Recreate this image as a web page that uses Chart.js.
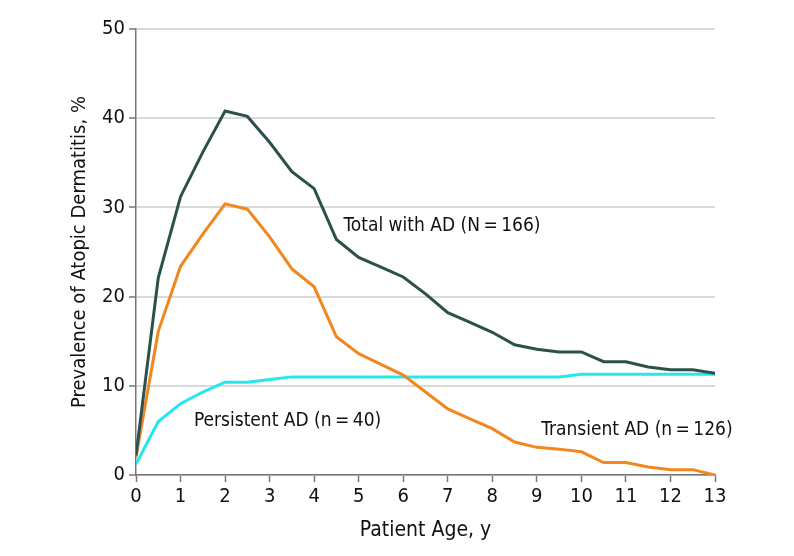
<!DOCTYPE html>
<html>
<head>
<meta charset="utf-8">
<script src="https://cdn.jsdelivr.net/npm/chart.js@4"></script>
<style>
  html, body { margin: 0; padding: 0; background: #fff; }
  #wrap { width: 794px; height: 556px; }
</style>
</head>
<body>
<div id="wrap"><canvas id="chart" width="794" height="556"></canvas></div>
<script>
// patient age, years (half year steps)
const ages = [0, 0.5, 1, 1.5, 2, 2.5, 3, 3.5, 4, 4.5, 5, 5.5, 6, 6.5, 7, 7.5, 8, 8.5, 9, 9.5, 10, 10.5, 11, 11.5, 12, 12.5, 13];

// prevalence, %
const totalAD = [2.2, 22.1, 31.2, 36.2, 40.8, 40.2, 37.3, 34.0, 32.1, 26.4, 24.4, 23.3, 22.2, 20.3, 18.2, 17.1, 16.0, 14.6, 14.1, 13.8, 13.8, 12.7, 12.7, 12.1, 11.8, 11.8, 11.4];
const transientAD = [2.0, 16.1, 23.4, 27.0, 30.4, 29.8, 26.7, 23.1, 21.1, 15.5, 13.6, 12.4, 11.2, 9.3, 7.4, 6.3, 5.2, 3.7, 3.1, 2.9, 2.6, 1.4, 1.4, 0.9, 0.6, 0.6, 0.0];
const persistentAD = [1.2, 6.0, 8.0, 9.3, 10.4, 10.4, 10.7, 11.0, 11.0, 11.0, 11.0, 11.0, 11.0, 11.0, 11.0, 11.0, 11.0, 11.0, 11.0, 11.0, 11.3, 11.3, 11.3, 11.3, 11.3, 11.3, 11.3];

const xTicks = [0, 1, 2, 3, 4, 5, 6, 7, 8, 9, 10, 11, 12, 13];
const yTicks = [0, 10, 20, 30, 40, 50];

// series labels written next to the lines: [text, x, y]
const seriesLabels = [
  ["Total with AD (N\u2009=\u2009166)", 4.66, 27.9],
  ["Persistent AD (n\u2009=\u200940)", 1.3, 6.1],
  ["Transient AD (n\u2009=\u2009126)", 9.1, 5.0]
];

const FONT = "'DejaVu Sans Condensed', 'Liberation Sans Narrow', 'Liberation Sans', sans-serif";

function toPoints(values) {
  return values.map((v, i) => ({ x: ages[i], y: v }));
}

// writes the series labels inside the plot
const labelPlugin = {
  id: "seriesLabels",
  afterDatasetsDraw(chart) {
    const ctx = chart.ctx;
    const xs = chart.scales.x, ys = chart.scales.y;
    ctx.save();
    ctx.font = "19px " + FONT;
    ctx.fillStyle = "#111";
    ctx.textBaseline = "middle";
    ctx.textAlign = "left";
    seriesLabels.forEach(([txt, x, y]) => {
      ctx.fillText(txt, xs.getPixelForValue(x), ys.getPixelForValue(y));
    });
    ctx.restore();
  }
};

new Chart(document.getElementById("chart"), {
  type: "line",
  data: {
    datasets: [
      { label: "Total with AD", data: toPoints(totalAD), borderColor: "#2c504c", borderWidth: 3 },
      { label: "Transient AD", data: toPoints(transientAD), borderColor: "#f0871f", borderWidth: 3 },
      { label: "Persistent AD", data: toPoints(persistentAD), borderColor: "#24e8ee", borderWidth: 3 }
    ]
  },
  options: {
    responsive: false,
    animation: false,
    layout: { padding: { top: 29, right: 79, left: 68, bottom: 9 } },
    elements: { point: { radius: 0 }, line: { tension: 0, borderJoinStyle: "miter" } },
    plugins: { legend: { display: false }, tooltip: { enabled: false } },
    scales: {
      x: {
        type: "linear",
        min: 0,
        max: 13,
        afterFit: s => { s.height = 72; },
        afterBuildTicks: s => { s.ticks = xTicks.map(v => ({ value: v })); },
        grid: { drawOnChartArea: false, drawTicks: true, tickLength: 7, tickColor: "#777", tickWidth: 1.5 },
        border: { color: "#777", width: 1.5 },
        ticks: { color: "#111", font: { family: FONT, size: 20 }, padding: 3, maxRotation: 0 },
        title: { display: true, text: "Patient Age, y", color: "#111", font: { family: FONT, size: 21 }, padding: { top: 4 } }
      },
      y: {
        min: 0,
        max: 50,
        afterFit: s => { s.width = 68; },
        afterBuildTicks: s => { s.ticks = yTicks.map(v => ({ value: v })); },
        grid: { color: "#d9d9d9", lineWidth: 2, tickLength: 7, tickColor: "#777", tickWidth: 1.5 },
        border: { color: "#777", width: 1.5 },
        ticks: { color: "#111", font: { family: FONT, size: 20 }, padding: 4 },
        title: { display: true, text: "Prevalence of Atopic Dermatitis, %", color: "#111", font: { family: FONT, size: 20 }, padding: { top: 0, bottom: 0 } }
      }
    }
  },
  plugins: [labelPlugin]
});
</script>
</body>
</html>
